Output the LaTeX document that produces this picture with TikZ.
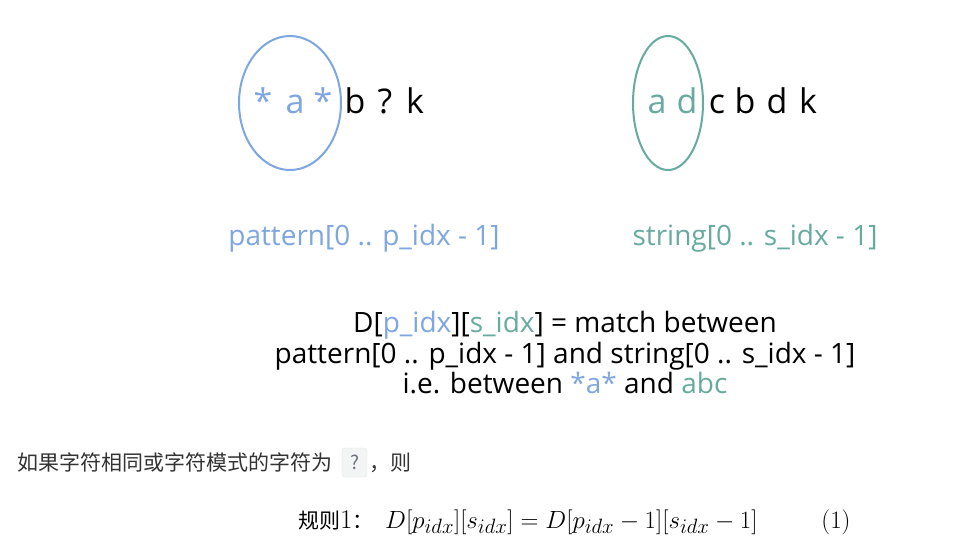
\documentclass[tikz,border=0pt]{standalone}
\usepackage{fontspec}
\newfontfamily\comic{Open Sans}
\newfontfamily\cjk{Noto Sans CJK SC}
\definecolor{patblue}{HTML}{7EA6E0}
\definecolor{strgreen}{HTML}{67AB9F}
\definecolor{notegray}{HTML}{333333}
\definecolor{codegray}{HTML}{6A737D}
\definecolor{codebg}{HTML}{F3F4F4}
\definecolor{codeline}{HTML}{E3E6E8}
\begin{document}
\begin{tikzpicture}[x=1pt,y=-1pt]
\useasboundingbox[fill=white] (0,0) rectangle (953,547);

% Parameters
\def\charSize{34}          % Size of the single letters
\def\labelSize{28}         % Size of the labels
\def\rowBase{113}          % Baseline of the two letter rows
\def\mathSize{28.4}        % Size of rule 1

\tikzset{
  letter/.style={anchor=base, inner sep=0pt, font=\comic\fontsize{\charSize}{\charSize}\selectfont},
  lbl/.style={anchor=base, inner sep=0pt, font=\comic\fontsize{\labelSize}{\labelSize}\selectfont},
  note/.style={anchor=base west, inner sep=0pt, text=notegray, font=\cjk\fontsize{21}{21}\selectfont},
}

% Pattern row and its prefix
\draw[patblue, line width=2pt] (290,103) ellipse [x radius=51, y radius=67];
\foreach \ch/\xx/\cc [count=\i] in {*/263/patblue, a/295/patblue, */323/patblue, b/355/black, ?/385/black, k/415/black}
    \node[letter, text=\cc] (p\i) at (\xx,\rowBase) {\ch};

% String row and its prefix
\draw[strgreen, line width=2pt] (668,103) ellipse [x radius=35, y radius=67];
\foreach \ch/\xx/\cc [count=\i] in {a/657/strgreen, d/687/strgreen, c/717/black, b/745/black, d/777/black, k/808/black}
    \node[letter, text=\cc] (s\i) at (\xx,\rowBase) {\ch};

% Labels under the rows
\node[lbl, text=patblue] (plabel) at (364,245) {pattern[0 .. p\_idx - 1]};
\node[lbl, text=strgreen] (slabel) at (755,245) {string[0 .. s\_idx - 1]};

% Definition of D
\node[lbl] (defa) at (565,332) {D[\textcolor{patblue}{p\_idx}][\textcolor{strgreen}{s\_idx}] = match between};
\node[lbl] (defb) at (565,363) {pattern[0 .. p\_idx - 1] and string[0 .. s\_idx - 1]};
\node[lbl] (defc) at (565,393) {i.e. between \textcolor{patblue}{*a*} and \textcolor{strgreen}{abc}};

% Note below the figure
\node[note] (cond) at (17,470) {如果字符相同或字符模式的字符为};
\node[draw=codeline, fill=codebg, rounded corners=3pt, minimum width=25pt, minimum height=29pt,
      inner sep=0pt, text=codegray, font=\cjk\fontsize{19}{19}\selectfont] (qmark) at (354.5,462.5) {?};
\node[note] (then) at (369,470) {，则};

% Rule 1
\node[anchor=base west, inner sep=0pt, font=\cjk\fontsize{21}{21}\selectfont] (rule) at (298,528)
    {规则{\rmfamily\fontsize{27}{27}\selectfont 1}：};
\node[anchor=base west, inner sep=0pt, font=\fontsize{\mathSize}{\mathSize}\selectfont] (rhs) at (385,528)
    {$D[p_{idx}][s_{idx}]=D[p_{idx}-1][s_{idx}-1]$};
\node[anchor=base, inner sep=0pt, font=\fontsize{25}{25}\selectfont] (eqno) at (836,528) {(1)};

\end{tikzpicture}
\end{document}
